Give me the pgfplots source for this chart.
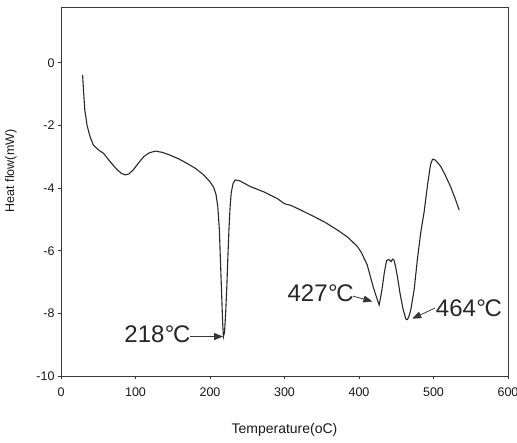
\documentclass[border=0pt]{standalone}
\usepackage{fontspec}
\setmainfont{Liberation Sans}
\usepackage{pgfplots}
\pgfplotsset{compat=1.18}
\usetikzlibrary{arrows.meta}

\definecolor{curve}{RGB}{40,40,40}
\definecolor{frame}{RGB}{55,55,55}

\newcommand{\degC}{\kern0.5pt°\kern-1.5ptC}

\begin{document}
\begin{tikzpicture}
\path[use as bounding box] (-61pt,-66pt) rectangle (456pt,376pt);
\begin{axis}[
  scale only axis,
  width=447pt, height=369pt,
  xmin=0, xmax=600, ymin=-10, ymax=1.78,
  xtick={0,100,...,600},
  ytick={-10,-8,-6,-4,-2,0},
  xtick pos=bottom, ytick pos=left,
  tick align=outside,
  major tick length=3pt,
  axis line style={frame, line width=0.8pt},
  every tick/.style={frame, line width=0.6pt},
  /pgf/number format/assume math mode=true,
  ticklabel style={font=\fontsize{12.5}{12.5}\selectfont, text=black!90},
  xticklabel style={yshift=-5pt},
  xlabel={Temperature(oC)},
  ylabel={Heat flow(mW)},
  xlabel style={at={(axis description cs:0.5,-0.146)}, anchor=center,
                font=\fontsize{14}{14}\selectfont, text=black!90},
  ylabel style={at={(axis description cs:-0.112,0.556)}, anchor=center,
                font=\fontsize{12.5}{12.5}\selectfont, text=black!90},
  clip=false,
]
\addplot[curve, line width=1.1pt] coordinates {
 (29,-0.39) (30.5,-1.0) (32,-1.51) (35,-2.0) (39,-2.36) (43.5,-2.63)
 (50,-2.78) (57,-2.89) (63,-3.07) (70,-3.27) (76,-3.43) (81,-3.53)
 (86,-3.58) (91,-3.55) (97,-3.42) (104,-3.2) (111,-3.0) (118,-2.88)
 (126.5,-2.82) (136,-2.86) (146.6,-2.95) (158,-3.07) (169,-3.21)
 (181,-3.38) (191.5,-3.58) (200,-3.80) (205,-3.98) (208,-4.2)
 (210.5,-4.6) (212.5,-5.3) (214,-6.3) (215.5,-7.3) (217,-8.3)
 (218,-8.75) (219.5,-8.6) (221,-8.0) (222.5,-7.2) (224,-6.2)
 (225.5,-5.3) (227,-4.6) (228.5,-4.15) (231,-3.85) (234,-3.74)
 (240,-3.77) (254,-3.95) (272,-4.12) (290,-4.33) (300,-4.5)
 (308,-4.55) (320,-4.68) (339.5,-4.91) (355,-5.1) (371,-5.34)
 (385,-5.57) (398,-5.87) (403,-6.05) (407,-6.25) (411,-6.45)
 (415,-6.8) (419,-7.15) (423,-7.45) (427,-7.73) (429,-7.5)
 (431.4,-7.15) (434,-6.7) (437,-6.32) (440,-6.28) (443,-6.35)
 (445,-6.27) (447,-6.3) (449,-6.5) (451.6,-6.83) (455,-7.35)
 (459,-7.85) (462.8,-8.18) (465,-8.2) (467,-8.1) (469.5,-7.89)
 (474,-7.25) (478.5,-6.25) (483,-5.4) (487.5,-4.75) (492,-3.9)
 (496,-3.25) (498.7,-3.08) (502,-3.1) (506,-3.2) (510,-3.32)
 (516,-3.6) (523,-3.96) (529,-4.33) (534.5,-4.70)
};

% peak annotations
\node[anchor=east, inner sep=0pt, font=\fontsize{24}{24}\selectfont, text=black!85]
  at (axis cs:174,-8.68) {218\degC};
\draw[-{Triangle[length=9pt,width=7pt]}, frame, line width=0.8pt]
  (axis cs:173,-8.74) -- (axis cs:217.5,-8.74);

\node[anchor=east, inner sep=0pt, font=\fontsize{24}{24}\selectfont, text=black!85]
  at (axis cs:393,-7.35) {427\degC};
\draw[-{Triangle[length=9pt,width=7pt]}, frame, line width=0.8pt]
  (axis cs:392,-7.45) -- (axis cs:418,-7.62);

\node[anchor=west, inner sep=0pt, font=\fontsize{24}{24}\selectfont, text=black!85]
  at (axis cs:503,-7.83) {464\degC};
\draw[-{Triangle[length=9pt,width=7pt]}, frame, line width=0.8pt]
  (axis cs:502,-7.83) -- (axis cs:471.5,-8.17);
\end{axis}
\end{tikzpicture}
\end{document}
